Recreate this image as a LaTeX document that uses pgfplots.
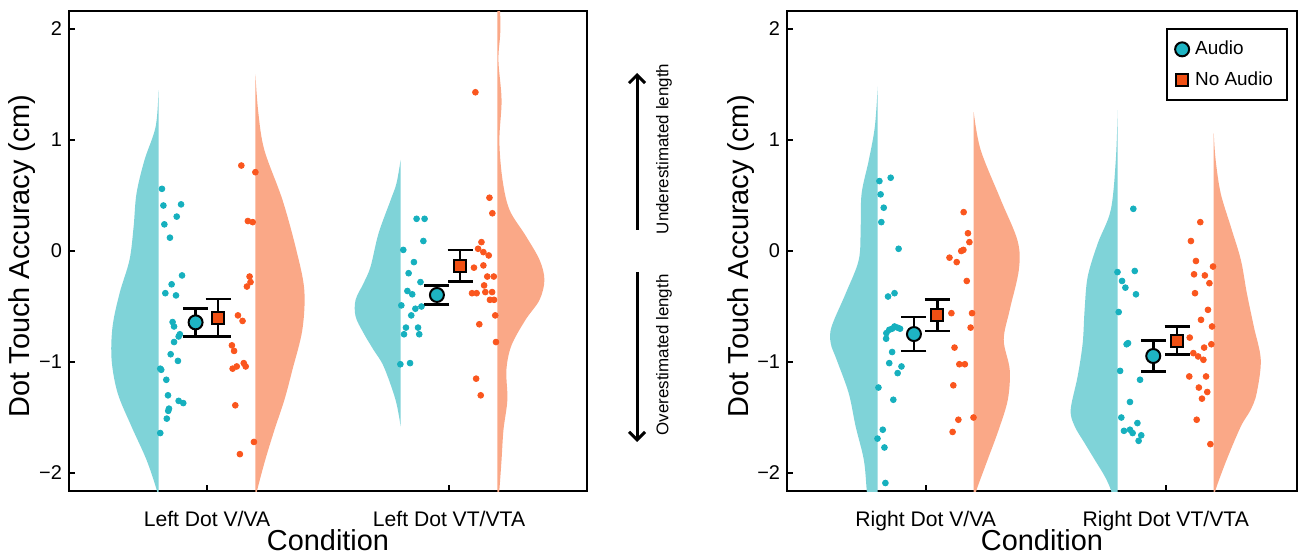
\documentclass[border=0pt]{standalone}
\usepackage{fontspec}
\setmainfont{Liberation Sans}
\usepackage{pgfplots}
\pgfplotsset{compat=1.18}
\usetikzlibrary{arrows.meta}

\definecolor{violA}{RGB}{127,211,216}
\definecolor{violB}{RGB}{250,168,135}
\definecolor{dotA}{RGB}{22,176,190}
\definecolor{dotB}{RGB}{250,86,30}
\definecolor{meanA}{RGB}{30,180,195}
\definecolor{meanB}{RGB}{240,80,20}

\pgfplotsset{
  rain/.style={
    scale only axis, width=259bp, height=240bp,
    xmin=0.43, xmax=2.57, ymin=-2.162, ymax=2.162,
    xtick={1,2}, ytick={-2,-1,0,1,2},
    yticklabels={−2,−1,0,1,2},
    tick pos=left, tick align=inside, major tick length=3bp,
    tick style={line width=0.8bp, black},
    axis line style={line width=1.1bp},
    yticklabel style={font=\fontsize{10}{12}\selectfont},
    xticklabel style={font=\fontsize{10.6}{12}\selectfont, anchor=base, yshift=-17.5bp},
    label style={font=\fontsize{14.5}{17}\selectfont},
    xlabel style={at={(axis description cs:0.5,0)}, anchor=base, yshift=-29.5bp},
    ylabel style={at={(axis description cs:-0.091,0.49)}, anchor=center},
    xlabel={Condition}, ylabel={Dot Touch Accuracy (cm)},
  },
  cloudA/.style={fill=violA, draw=none, smooth, tension=0.55, forget plot},
  cloudB/.style={fill=violB, draw=none, smooth, tension=0.55, forget plot},
  dotsA/.style={only marks, mark=*, mark size=1.45bp, color=dotA, forget plot},
  dotsB/.style={only marks, mark=*, mark size=1.45bp, color=dotB, forget plot},
  meanerr/.style={only marks,
    error bars/y dir=both, error bars/y explicit,
    error bars/error bar style={line width=1.25bp, black},
    error bars/error mark options={rotate=90, line width=1.25bp, mark size=6.25bp, black}},
  meanA/.style={meanerr, mark=*, mark size=3.5bp,
    mark options={fill=meanA, draw=black, line width=1bp}},
  meanB/.style={meanerr, mark=square*, mark size=3bp,
    mark options={fill=meanB, draw=black, line width=1bp}},
}

\begin{document}
\begin{tikzpicture}
\useasboundingbox (0,0) rectangle (653bp,276.5bp);

% ---------------- left panel ----------------
\begin{axis}[rain, at={(34.5bp,31bp)}, anchor=south west,
  xticklabels={Left Dot V/VA, Left Dot VT/VTA}]

% Left Dot V/VA
\addplot[cloudA] coordinates {(0.800,1.45)(0.788,1.12)(0.742,0.82)(0.709,0.52)(0.697,0.22)(0.680,-0.08)(0.639,-0.38)(0.610,-0.68)(0.606,-0.98)(0.631,-1.28)(0.688,-1.58)(0.750,-1.88)(0.792,-2.15)(0.800,-2.25)} -- cycle;
\addplot[cloudB] coordinates {(1.200,1.59)(1.212,1.25)(1.237,0.91)(1.312,0.46)(1.369,0.01)(1.402,-0.35)(1.394,-0.71)(1.353,-1.07)(1.320,-1.34)(1.279,-1.61)(1.241,-1.88)(1.208,-2.15)(1.200,-2.25)} -- cycle;
\addplot[dotsA] coordinates {(0.814,0.56)(0.820,0.41)(0.893,0.42)(0.875,0.31)(0.824,0.24)(0.847,0.12)(0.897,-0.22)(0.854,-0.30)(0.828,-0.38)(0.872,-0.40)(0.858,-0.64)(0.864,-0.68)(0.888,-0.75)(0.883,-0.77)(0.864,-0.82)(0.850,-0.93)(0.880,-0.99)(0.807,-1.06)(0.811,-1.07)(0.832,-1.16)(0.839,-1.30)(0.883,-1.35)(0.902,-1.37)(0.843,-1.42)(0.840,-1.44)(0.834,-1.51)(0.807,-1.64)};
\addplot[dotsB] coordinates {(1.142,0.77)(1.200,0.71)(1.169,0.27)(1.189,0.26)(1.176,-0.23)(1.180,-0.28)(1.165,-0.32)(1.128,-0.58)(1.147,-0.63)(1.103,-0.85)(1.112,-0.90)(1.106,-1.06)(1.123,-1.04)(1.152,-1.01)(1.160,-1.04)(1.117,-1.39)(1.194,-1.72)(1.136,-1.83)};

% Left Dot VT/VTA
\addplot[cloudA] coordinates {(1.800,0.82)(1.783,0.61)(1.759,0.46)(1.709,0.16)(1.676,-0.14)(1.647,-0.29)(1.614,-0.44)(1.614,-0.59)(1.647,-0.74)(1.688,-0.89)(1.730,-1.04)(1.779,-1.34)(1.800,-1.58)} -- cycle;
\addplot[cloudB] coordinates {(2.200,2.40)(2.208,2.35)(2.212,1.99)(2.204,1.72)(2.217,1.36)(2.208,0.99)(2.221,0.64)(2.250,0.37)(2.316,0.14)(2.374,-0.08)(2.394,-0.26)(2.374,-0.44)(2.316,-0.62)(2.258,-0.85)(2.237,-1.07)(2.241,-1.34)(2.225,-1.61)(2.217,-1.88)(2.208,-2.15)(2.200,-2.30)} -- cycle;
\addplot[dotsA] coordinates {(1.866,0.29)(1.899,0.29)(1.894,0.09)(1.811,0.01)(1.855,-0.10)(1.833,-0.20)(1.882,-0.28)(1.828,-0.36)(1.848,-0.39)(1.803,-0.49)(1.861,-0.52)(1.886,-0.50)(1.844,-0.58)(1.822,-0.69)(1.872,-0.69)(1.814,-0.75)(1.877,-0.75)(1.799,-1.02)(1.839,-1.01)};
\addplot[dotsB] coordinates {(2.109,1.43)(2.167,0.48)(2.179,0.34)(2.134,0.08)(2.120,0.02)(2.142,-0.01)(2.164,-0.04)(2.103,-0.15)(2.142,-0.13)(2.158,-0.23)(2.185,-0.23)(2.145,-0.31)(2.095,-0.38)(2.114,-0.38)(2.150,-0.37)(2.178,-0.37)(2.169,-0.44)(2.186,-0.44)(2.191,-0.58)(2.125,-0.66)(2.194,-0.82)(2.112,-1.15)(2.131,-1.30)};

\addplot[meanA] coordinates {(0.953,-0.643) +- (0,0.125) (1.950,-0.396) +- (0,0.087)};
\addplot[meanB] coordinates {(1.046,-0.602) +- (0,0.170) (2.046,-0.132) +- (0,0.142)};
\end{axis}

% ---------------- right panel ----------------
\begin{axis}[rain, at={(393.5bp,31bp)}, anchor=south west, width=255bp,
  xmin=0.422, xmax=2.547,
  xticklabels={Right Dot V/VA, Right Dot VT/VTA},
  legend style={at={(1,1)}, anchor=north east, xshift=-4.5bp, yshift=-8.5bp,
    draw=black, line width=1bp, font=\fontsize{9.5}{11}\selectfont,
    inner xsep=4bp, inner ysep=4bp, row sep=3bp,
    nodes={inner xsep=3bp}},
  legend cell align=left]

% Right Dot V/VA
\addplot[cloudA] coordinates {(0.800,1.48)(0.788,1.12)(0.763,0.82)(0.733,0.52)(0.729,0.22)(0.721,-0.08)(0.667,-0.38)(0.608,-0.68)(0.604,-0.83)(0.629,-0.98)(0.679,-1.28)(0.708,-1.58)(0.742,-1.88)(0.754,-2.15)(0.760,-2.30)(0.800,-2.30)} -- cycle;
\addplot[cloudB] coordinates {(1.200,1.25)(1.229,0.91)(1.313,0.46)(1.383,0.09)(1.388,-0.17)(1.350,-0.53)(1.325,-0.80)(1.350,-1.07)(1.342,-1.34)(1.304,-1.61)(1.258,-1.88)(1.212,-2.15)(1.200,-2.25)} -- cycle;
\addplot[dotsA] coordinates {(0.807,0.63)(0.854,0.66)(0.812,0.51)(0.825,0.39)(0.815,0.26)(0.887,0.02)(0.843,-0.41)(0.870,-0.38)(0.836,-0.74)(0.848,-0.71)(0.860,-0.70)(0.870,-0.68)(0.882,-0.69)(0.893,-0.70)(0.835,-0.79)(0.860,-0.91)(0.848,-1.01)(0.899,-1.04)(0.883,-1.10)(0.803,-1.23)(0.865,-1.34)(0.821,-1.61)(0.799,-1.69)(0.828,-1.77)(0.832,-2.09)};
\addplot[dotsB] coordinates {(1.158,0.35)(1.176,0.16)(1.182,0.08)(1.148,0.00)(1.157,0.01)(1.099,-0.06)(1.129,-0.10)(1.171,-0.27)(1.107,-0.56)(1.193,-0.56)(1.187,-0.69)(1.120,-0.87)(1.140,-1.02)(1.163,-1.02)(1.115,-1.21)(1.199,-1.50)(1.136,-1.52)(1.112,-1.63)};

% Right Dot VT/VTA
\addplot[cloudA] coordinates {(1.800,1.27)(1.792,0.82)(1.771,0.37)(1.717,0.07)(1.675,-0.23)(1.662,-0.53)(1.654,-0.83)(1.633,-1.13)(1.604,-1.43)(1.621,-1.58)(1.662,-1.73)(1.704,-1.88)(1.746,-2.03)(1.771,-2.15)(1.790,-2.30)(1.800,-2.30)} -- cycle;
\addplot[cloudB] coordinates {(2.200,1.06)(2.208,0.82)(2.229,0.52)(2.271,0.22)(2.313,-0.08)(2.338,-0.38)(2.367,-0.68)(2.396,-0.98)(2.379,-1.28)(2.354,-1.43)(2.313,-1.58)(2.254,-1.88)(2.208,-2.15)(2.200,-2.25)} -- cycle;
\addplot[dotsA] coordinates {(1.865,0.38)(1.799,-0.19)(1.871,-0.18)(1.818,-0.27)(1.832,-0.33)(1.876,-0.39)(1.804,-0.55)(1.843,-0.83)(1.837,-0.84)(1.810,-1.08)(1.893,-1.16)(1.851,-1.36)(1.815,-1.50)(1.882,-1.55)(1.851,-1.61)(1.826,-1.62)(1.862,-1.64)(1.898,-1.66)(1.887,-1.71)};
\addplot[dotsB] coordinates {(2.144,0.26)(2.105,0.09)(2.126,-0.09)(2.197,-0.14)(2.118,-0.21)(2.163,-0.22)(2.182,-0.29)(2.122,-0.38)(2.176,-0.53)(2.147,-0.62)(2.193,-0.68)(2.100,-0.78)(2.190,-0.84)(2.160,-0.87)(2.115,-0.92)(2.135,-0.95)(2.157,-0.98)(2.098,-1.13)(2.168,-1.13)(2.138,-1.23)(2.173,-1.27)(2.151,-1.33)(2.129,-1.52)(2.186,-1.74)};

\addplot[meanA] coordinates {(0.951,-0.748) +- (0,0.155) (1.948,-0.946) +- (0,0.140)};
\addlegendentry{Audio}
\addplot[meanB] coordinates {(1.048,-0.577) +- (0,0.142) (2.047,-0.808) +- (0,0.126)};
\addlegendentry{No Audio}
\end{axis}

% direction arrows between the panels
\draw[line width=1.5bp, -{Straight Barb[length=4bp, width=8bp]}] (318.5bp,161.5bp) -- (318.5bp,240bp);
\draw[line width=1.5bp, -{Straight Barb[length=4bp, width=8bp]}] (318.5bp,140.5bp) -- (318.5bp,55.5bp);
\node[rotate=90, font=\fontsize{8.5}{10}\selectfont] at (332bp,202bp) {Underestimated length};
\node[rotate=90, font=\fontsize{8.5}{10}\selectfont] at (332bp,99bp) {Overestimated length};
\end{tikzpicture}
\end{document}
